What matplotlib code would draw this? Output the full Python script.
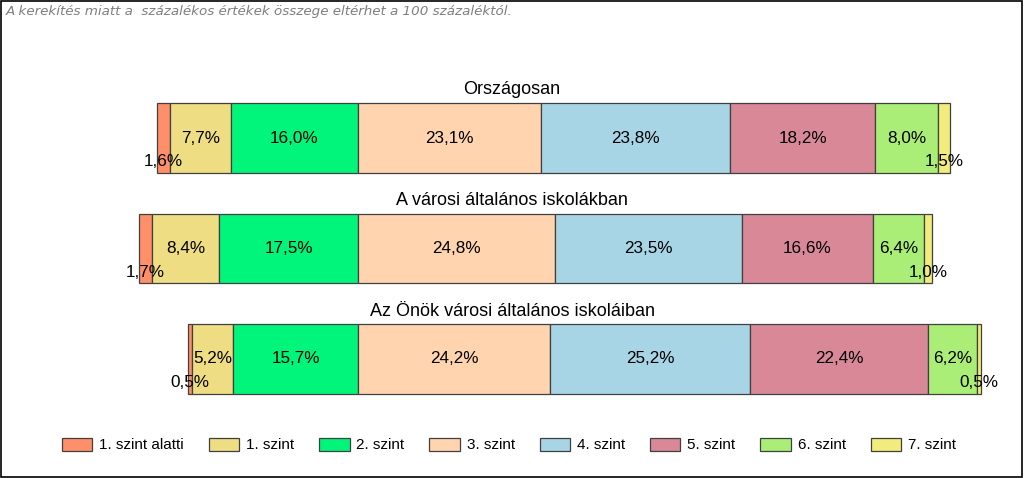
import matplotlib.pyplot as plt
from matplotlib.patches import Rectangle

plt.rcParams['font.family'] = ['Liberation Sans', 'DejaVu Sans']

groups = ["Országosan", "A városi általános iskolákban", "Az Önök városi általános iskoláiban"]
levels = ["1. szint alatti", "1. szint", "2. szint", "3. szint",
          "4. szint", "5. szint", "6. szint", "7. szint"]
values = [
  [1.6, 7.7, 16.0, 23.1, 23.8, 18.2, 8.0, 1.5],
  [1.7, 8.4, 17.5, 24.8, 23.5, 16.6, 6.4, 1.0],
  [0.5, 5.2, 15.7, 24.2, 25.2, 22.4, 6.2, 0.5],
]
colors = ["#FF8F6B", "#EEDD82", "#00F57A", "#FFD4AE",
          "#A8D5E6", "#D98898", "#AAEE77", "#F2EC7C"]
note = "A kerekítés miatt a  százalékos értékek összege eltérhet a 100 százaléktól."

fig = plt.figure(figsize=(10.24, 4.78), dpi=100)
ax = fig.add_axes([0, 0, 1, 1])
ax.set_xlim(-45.09, 83.88)
ax.set_ylim(3.077, -1.249)
ax.axis("off")

bar_h = 0.633
for i, row in enumerate(values):
  # bars are aligned at the boundary between 2. szint and 3. szint
  left = -sum(row[:3])
  for j, v in enumerate(row):
    ax.barh(i, v, left=left, height=bar_h, color=colors[j],
            edgecolor="#404040", linewidth=0.9)
    label = f"{v:.1f}%".replace(".", ",")
    # the thin end segments get their label pushed down
    dy = 0.217 if j in (0, len(row) - 1) else 0
    ax.text(left + v / 2, i + dy, label, ha="center", va="center", fontsize=12.3)
    left += v
  fig.text(0.5, 1 - (138 + 110.5 * i - 48) / 478, groups[i], ha="center", va="center", fontsize=13)

handles = [Rectangle((0, 0), 1, 1, facecolor=c, edgecolor="#404040", linewidth=0.9) for c in colors]
fig.legend(handles, levels, loc="center", bbox_to_anchor=(0.497, 1 - 445 / 478), ncol=8,
           frameon=False, fontsize=11, handlelength=2.0, handleheight=0.95,
           columnspacing=1.62, handletextpad=0.45)

fig.text(0.006, 1 - 11 / 478, note, ha="left", va="center", fontsize=9.7,
         style="italic", color="#7F7F7F", family="DejaVu Sans")

fig.patches.append(Rectangle((0.001, 0.002), 0.997, 0.996, transform=fig.transFigure,
                             fill=False, edgecolor="black", linewidth=1.2))

fig.savefig("out.png", dpi=100)
